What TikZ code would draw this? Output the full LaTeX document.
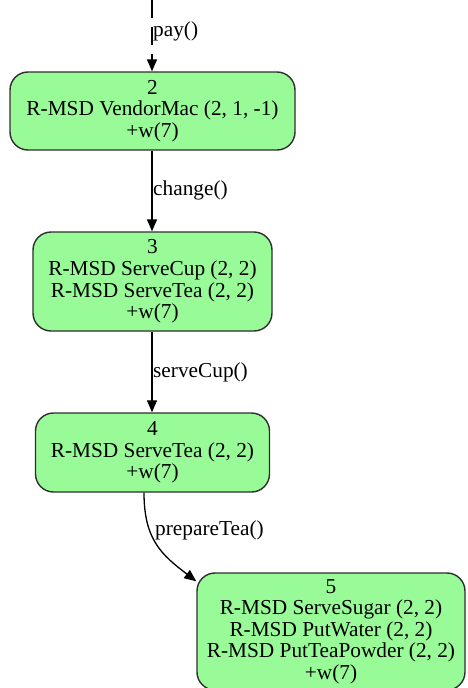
\documentclass[tikz,border=0pt]{standalone}
\usepackage{fontspec}
\setmainfont{Liberation Serif}
\usetikzlibrary{arrows.meta}
\definecolor{nodefill}{HTML}{98FB98}
\definecolor{nodeline}{HTML}{2E2E2E}
\tikzset{
  state/.style={draw=nodeline, line width=1.4pt, fill=nodefill, rounded corners=18pt,
    align=center, inner sep=0pt, font=\fontsize{21.3}{21.6}\selectfont},
  trans/.style={draw=black, line width=1.3pt, -{Triangle[length=12pt,width=10pt]}},
  lbl/.style={anchor=west, inner sep=0pt, font=\fontsize{21.3}{21.6}\selectfont}
}
\begin{document}
\begin{tikzpicture}[x=1pt,y=-1pt]
\useasboundingbox (0,0) rectangle (467,688);
\clip (0,0) rectangle (467,688);

% states
\node[state, minimum width=285pt, minimum height=78pt] (n2) at (152.5,111)
  {2\\R-MSD VendorMac (2, 1, -1)\\+w(7)};
\node[state, minimum width=239pt, minimum height=99pt] (n3) at (152.5,281.5)
  {3\\R-MSD ServeCup (2, 2)\\R-MSD ServeTea (2, 2)\\+w(7)};
\node[state, minimum width=234pt, minimum height=79pt] (n4) at (152.5,452.5)
  {4\\R-MSD ServeTea (2, 2)\\+w(7)};
\node[state, minimum width=268pt, minimum height=117pt] (n5) at (331,631.5)
  {5\\R-MSD ServeSugar (2, 2)\\R-MSD PutWater (2, 2)\\R-MSD PutTeaPowder (2, 2)\\+w(7)};

% incoming transition
\coordinate (start) at (152,0);
\draw[trans, dash pattern=on 18pt off 9pt] (start) -- (n2.north -| start);
\node[lbl] (lpay) at (153,31) {pay()};

% transitions between states
\draw[trans] (n2.south -| start) -- (n3.north -| start);
\node[lbl] (lchange) at (153,190) {change()};

\draw[trans] (n3.south -| start) -- (n4.north -| start);
\node[lbl] (lserve) at (153,372) {serveCup()};

\draw[trans] ([xshift=-8.5pt]n4.south) .. controls (144,540) and (162,555) ..
  ([xshift=0pt,yshift=-9pt]n5.north west);
\node[lbl] (lprep) at (155,530) {prepareTea()};
\end{tikzpicture}
\end{document}
